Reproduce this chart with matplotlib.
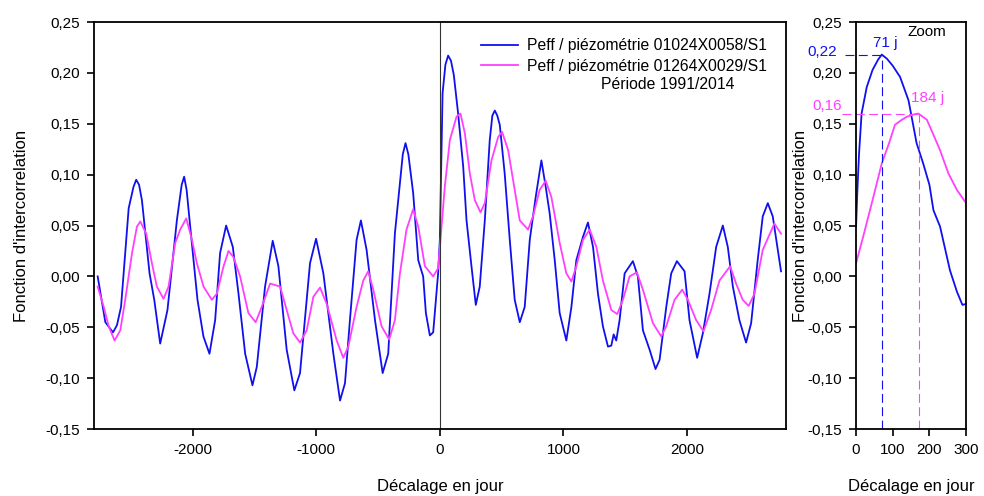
import matplotlib.pyplot as plt
from matplotlib.ticker import FuncFormatter

plt.rcParams['font.family'] = ['Liberation Sans', 'DejaVu Sans']
plt.rcParams['axes.unicode_minus'] = False

# courbe bleue : Peff / piezometrie 01024X0058/S1
lag_b = [-2770, -2708, -2646, -2614, -2581, -2519, -2480, -2458, -2435, -2412, -2350, -2312,
         -2264, -2205, -2129, -2090, -2070, -2050, -2021, -1962, -1914, -1865, -1819, -1779,
         -1730, -1676, -1630, -1576, -1517, -1482, -1415, -1353, -1307, -1240,
         -1178, -1132, -1051, -1002, -943, -862, -808, -768, -728, -674,
         -639, -593, -525, -463, -418, -364, -300, -278, -255, -216, -175, -135,
         -113, -81, -54, -14, 0, 22, 45, 67, 90, 113, 148,
         189, 216, 256, 291, 323, 364, 404, 425, 445, 465, 485, 525,
         566, 606, 647, 687, 728, 776, 822, 857, 889, 930,
         970, 1024, 1065, 1105, 1159, 1199, 1240, 1280, 1320, 1361,
         1388, 1407, 1428, 1455, 1496, 1563, 1603, 1644, 1698, 1746,
         1779, 1833, 1873, 1919, 1981, 2021, 2083, 2129, 2183, 2237,
         2291, 2331, 2372, 2425, 2479, 2520, 2573, 2614, 2655, 2695, 2762]
val_b = [0.000, -0.045, -0.055, -0.048, -0.030, 0.067, 0.088, 0.095, 0.090, 0.075, 0.003, -0.023,
         -0.066, -0.033, 0.055, 0.090, 0.098, 0.085, 0.049, -0.023, -0.059, -0.076, -0.043, 0.023,
         0.050, 0.029, -0.017, -0.076, -0.107, -0.089, -0.010, 0.035, 0.010, -0.072,
         -0.112, -0.095, 0.013, 0.037, 0.003, -0.076, -0.122, -0.105, -0.043, 0.036,
         0.055, 0.026, -0.043, -0.095, -0.076, 0.042, 0.120, 0.131, 0.120, 0.082, 0.016, 0.000,
         -0.036, -0.058, -0.055, 0.003, 0.036, 0.180, 0.208, 0.217, 0.212, 0.198, 0.160,
         0.108, 0.055, 0.010, -0.028, -0.010, 0.055, 0.134, 0.158, 0.163, 0.158, 0.149, 0.101,
         0.036, -0.023, -0.045, -0.030, 0.036, 0.078, 0.114, 0.088, 0.062, 0.016,
         -0.036, -0.063, -0.030, 0.016, 0.039, 0.053, 0.029, -0.017, -0.049, -0.069,
         -0.068, -0.057, -0.063, -0.043, 0.003, 0.015, 0.000, -0.053, -0.072, -0.091,
         -0.082, -0.030, 0.003, 0.015, 0.005, -0.043, -0.080, -0.056, -0.017, 0.029,
         0.050, 0.029, -0.010, -0.043, -0.065, -0.046, 0.016, 0.059, 0.072, 0.059, 0.005]

# courbe rose : Peff / piezometrie 01264X0029/S1
lag_p = [-2770, -2721, -2681, -2633, -2587, -2547, -2492, -2452, -2425, -2377,
         -2331, -2291, -2237, -2196, -2142, -2102, -2053, -2007, -1967, -1913,
         -1846, -1805, -1751, -1711, -1671, -1617, -1550, -1491, -1442, -1374,
         -1293, -1240, -1186, -1132, -1078, -1024, -970, -916, -835, -782,
         -741, -674, -620, -580, -539, -472, -410, -364, -323, -270,
         -216, -175, -121, -54, -14, 40, 81, 135, 167, 202,
         243, 283, 329, 364, 418, 472, 504, 553, 606, 647,
         714, 754, 808, 857, 903, 970, 1024, 1065, 1105, 1159,
         1213, 1267, 1320, 1388, 1436, 1482, 1536, 1595, 1644, 1725,
         1792, 1833, 1900, 1962, 2008, 2075, 2134, 2196, 2264, 2350,
         2398, 2452, 2500, 2547, 2614, 2708, 2762]
val_p = [-0.010, -0.030, -0.049, -0.063, -0.053, -0.023, 0.023, 0.049, 0.054, 0.042,
         0.013, -0.010, -0.022, -0.010, 0.033, 0.046, 0.057, 0.036, 0.013, -0.010,
         -0.023, -0.017, 0.010, 0.025, 0.019, 0.000, -0.036, -0.045, -0.030, -0.007,
         -0.010, -0.033, -0.056, -0.065, -0.053, -0.020, -0.011, -0.027, -0.063, -0.080,
         -0.069, -0.030, -0.004, 0.005, -0.013, -0.049, -0.062, -0.043, 0.003, 0.046,
         0.066, 0.049, 0.010, 0.000, 0.008, 0.088, 0.134, 0.157, 0.160, 0.141,
         0.101, 0.075, 0.063, 0.072, 0.114, 0.137, 0.142, 0.124, 0.085, 0.055,
         0.046, 0.059, 0.085, 0.094, 0.078, 0.033, 0.003, -0.005, 0.010, 0.036,
         0.046, 0.029, -0.004, -0.033, -0.037, -0.023, 0.000, 0.004, -0.013, -0.046,
         -0.059, -0.049, -0.023, -0.013, -0.023, -0.043, -0.054, -0.033, -0.004, 0.010,
         -0.007, -0.023, -0.029, -0.017, 0.026, 0.052, 0.042]

# zoom 0-300 jours
zlag_b = [0, 3, 8, 15, 29, 45, 60, 70, 84, 100, 120, 143, 165, 183, 200, 211, 229, 256, 275, 290, 300]
zval_b = [0.049, 0.080, 0.120, 0.160, 0.186, 0.203, 0.213, 0.218, 0.214, 0.207, 0.196, 0.173, 0.131,
          0.111, 0.090, 0.065, 0.049, 0.006, -0.015, -0.028, -0.027]
zlag_p = [0, 20, 45, 70, 90, 106, 125, 139, 155, 170, 193, 210, 229, 252, 275, 300]
zval_p = [0.013, 0.040, 0.075, 0.111, 0.131, 0.149, 0.154, 0.157, 0.159, 0.160, 0.154, 0.140,
          0.124, 0.101, 0.085, 0.072]

peaks = [71, 184]
peak_vals = [0.22, 0.16]

blue = '#1010ee'
pink = '#ff40ff'

comma = FuncFormatter(lambda v, p: f'{v:.2f}'.replace('.', ','))

fig = plt.figure(figsize=(9.84, 4.96), dpi=100)
ax = fig.add_axes([0.0955, 0.135, 0.703, 0.8206])
az = fig.add_axes([0.870, 0.135, 0.1118, 0.8206])

ax.plot(lag_b, val_b, color=blue, lw=1.3, label='Peff / piézométrie 01024X0058/S1')
ax.plot(lag_p, val_p, color=pink, lw=1.3, label='Peff / piézométrie 01264X0029/S1')
ax.axvline(0, color='#333333', lw=0.8)
ax.set_xlim(-2800, 2800)
ax.set_ylim(-0.15, 0.25)
ax.set_xticks([-2000, -1000, 0, 1000, 2000])
ax.set_yticks([-0.15, -0.10, -0.05, 0, 0.05, 0.10, 0.15, 0.20, 0.25])
ax.yaxis.set_major_formatter(comma)
ax.set_xlabel('Décalage en jour', fontsize=12, labelpad=16)
ax.set_ylabel("Fonction d'intercorrelation", fontsize=12, labelpad=12)
leg = ax.legend(loc='upper left', frameon=False, fontsize=11.3, handlelength=2.3,
                handletextpad=0.6, bbox_to_anchor=(0.551, 0.975), borderaxespad=0,
                labelspacing=0.35)
ax.text(0.83, 0.847, 'Période 1991/2014', transform=ax.transAxes, ha='center', va='center', fontsize=11.3)

az.plot(zlag_b, zval_b, color=blue, lw=1.3)
az.plot(zlag_p, zval_p, color=pink, lw=1.3)
az.set_xlim(0, 300)
az.set_ylim(-0.15, 0.25)
az.set_xticks([0, 100, 200, 300])
az.set_yticks([-0.15, -0.10, -0.05, 0, 0.05, 0.10, 0.15, 0.20, 0.25])
az.yaxis.set_major_formatter(comma)
az.set_xlabel('Décalage en jour', fontsize=12, labelpad=16)
az.set_ylabel("Fonction d'intercorrelation", fontsize=12, labelpad=0)

# repères des maxima
az.plot([-30, 71], [0.2176, 0.2176], color=blue, lw=0.8, ls=(0, (8, 4)), clip_on=False)
az.plot([71, 71], [-0.15, 0.2176], color=blue, lw=0.8, ls=(0, (8, 4)))
az.plot([-38, 171], [0.160, 0.160], color=pink, lw=0.8, ls=(0, (8, 4)), clip_on=False)
az.plot([171, 171], [-0.15, 0.160], color=pink, lw=0.8, ls=(0, (8, 4)))
az.text(-93, 0.221, f'{peak_vals[0]:.2f}'.replace('.', ','), color=blue, ha='center', va='center', fontsize=11, clip_on=False)
az.text(-80, 0.167, f'{peak_vals[1]:.2f}'.replace('.', ','), color=pink, ha='center', va='center', fontsize=11, clip_on=False)
az.text(80, 0.229, f'{peaks[0]} j', color=blue, ha='center', va='center', fontsize=11)
az.text(196, 0.175, f'{peaks[1]} j', color=pink, ha='center', va='center', fontsize=11)
az.text(193, 0.240, 'Zoom', color='black', ha='center', va='center', fontsize=11)

for a in (ax, az):
    for s in a.spines.values():
        s.set_linewidth(1.3)
    a.tick_params(direction='out', length=5, width=1.2, labelsize=11, pad=5, top=False, right=False)

fig.savefig('out.png', dpi=100)
